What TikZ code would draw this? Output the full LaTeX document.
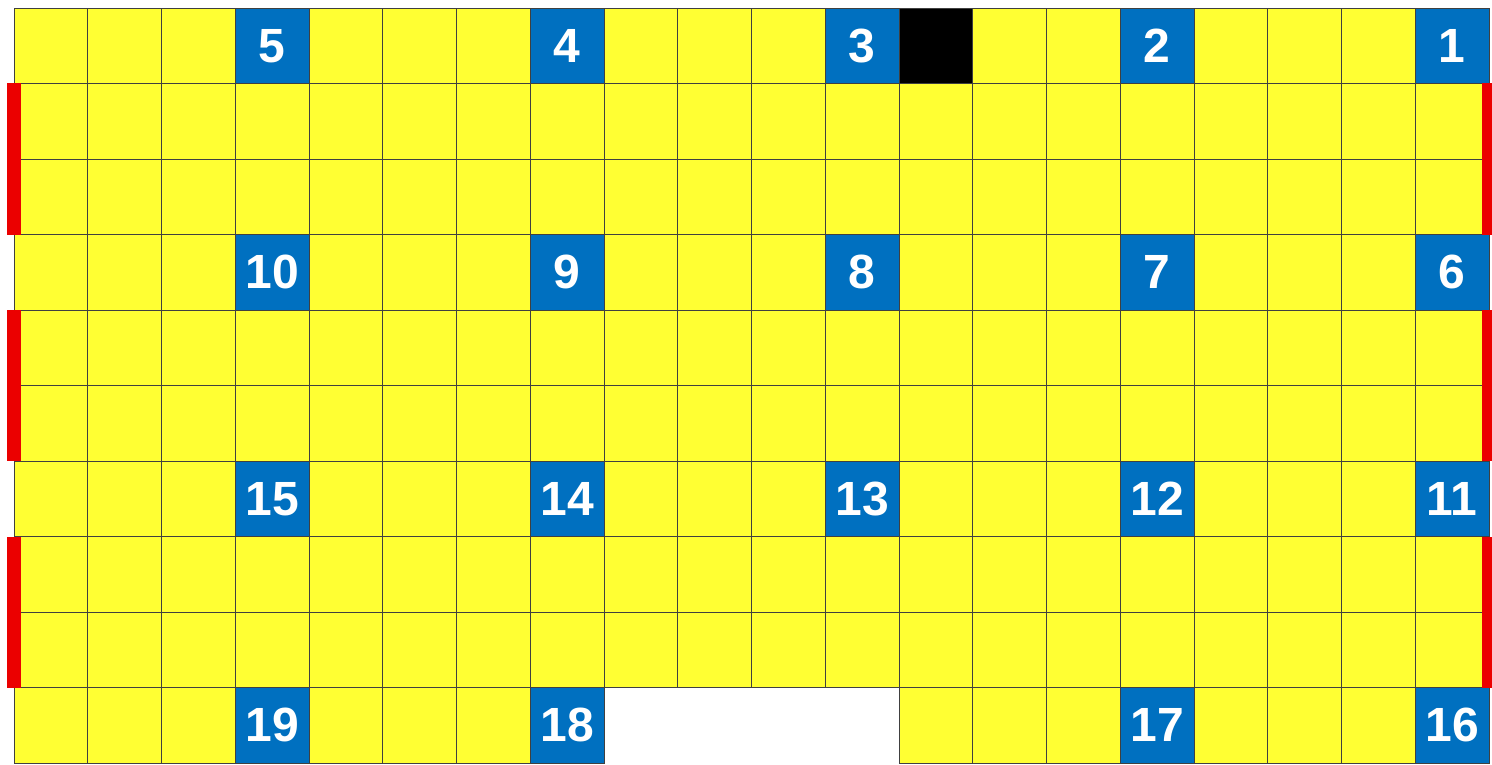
\documentclass[tikz,border=0pt]{standalone}
\usepackage{fontspec}
\setmainfont{Liberation Sans}
\usetikzlibrary{positioning}
\definecolor{gridyellow}{RGB}{255,255,51}
\definecolor{gridblue}{RGB}{0,112,192}
\definecolor{gridred}{RGB}{235,0,0}

\begin{document}
\begin{tikzpicture}[x=73.75pt,y=-75.5pt,
    cell/.style={draw=black!75,line width=.8pt,fill=gridyellow,inner sep=0pt,outer sep=0pt,
      minimum width=73.75pt,minimum height=75.5pt},
    num/.style={cell,fill=gridblue,text=white,font=\fontsize{48}{48}\selectfont\bfseries},
    bar/.style={fill=gridred,draw=none}]
  \useasboundingbox (-14pt,8pt) rectangle (1478pt,-757pt);
  % yellow floor, four cells missing in the last row
  \foreach \r in {0,...,9}
    \foreach \c in {0,...,19}{
      \pgfmathtruncatemacro\gap{and(\r==9,and(\c>7,\c<12))}
      \ifnum\gap=0 \node[cell] (c-\r-\c) at (\c+.5,\r+.5) {};\fi
    }
  \node[cell,fill=black] (blk) at (12.5,.5) {};
  % numbered cells
  \foreach \n/\r/\c in {1/0/19,2/0/15,3/0/11,4/0/7,5/0/3,
      6/3/19,7/3/15,8/3/11,9/3/7,10/3/3,
      11/6/19,12/6/15,13/6/11,14/6/7,15/6/3,
      16/9/19,17/9/15,18/9/7,19/9/3}
    \node[num] (n\n) at (\c+.5,\r+.5) {\n};
  % red bars on both sides
  \foreach \r in {1,4,7}{
    \fill[bar] ([xshift=-7pt]0,\r) rectangle ([xshift=7pt]0,\r+2);
    \fill[bar] ([xshift=-7pt]20,\r) rectangle ([xshift=7pt]20,\r+2);
  }
\end{tikzpicture}
\end{document}
